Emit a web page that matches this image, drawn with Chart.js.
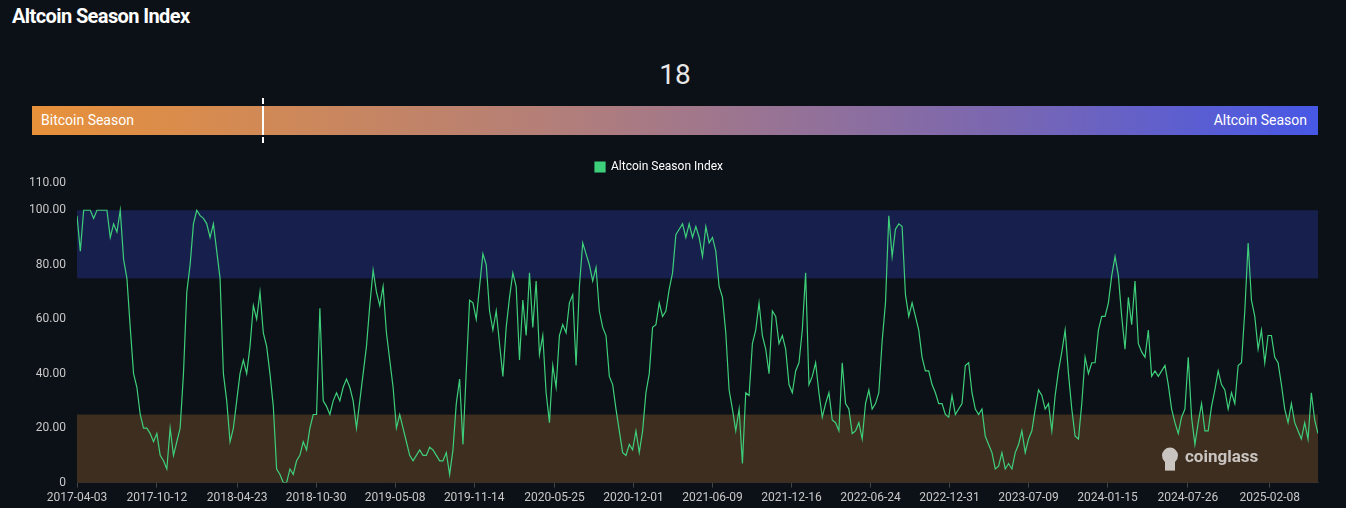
<!DOCTYPE html>
<html><head><meta charset="utf-8">
<script src="https://cdn.jsdelivr.net/npm/chart.js@4"></script>
<style>
html,body{margin:0;padding:0;background:#0c1017;width:1346px;height:508px;overflow:hidden;font-family:Roboto,"Noto Sans",sans-serif;}
#title{position:absolute;left:12px;top:4px;color:#fff;font-weight:bold;font-size:20px;letter-spacing:-0.6px;}
#cur{position:absolute;left:0;width:1350px;top:58px;text-align:center;color:#e8e8e8;font-size:28px;}
#bar{position:absolute;left:32px;top:106px;width:1286px;height:29px;background:linear-gradient(90deg,#e8913a,#b47f78 40%,#7b67b0 75%,#4758e6);}
#bar span{position:absolute;top:6px;color:#fff;font-size:14px;}
#mark{position:absolute;left:262px;top:98px;height:45px;border-left:2px dashed #fff;}
#mark2{position:absolute;left:262px;top:106px;height:29px;border-left:2px solid #fff;}
#wrap{position:absolute;left:0;top:143px;width:1346px;height:365px;}
</style></head><body>
<div id="title">Altcoin Season Index</div>
<div id="cur"></div>
<div id="bar"><span style="left:9px">Bitcoin Season</span><span style="right:11px">Altcoin Season</span></div>
<div id="mark"></div><div id="mark2"></div>
<div id="wrap"><canvas id="c"></canvas></div>
<script>
const startDate = "2017-04-03";
const stepDays = 8;
const currentValue = 18;
const seriesName = "Altcoin Season Index";
const tickDates = ["2017-04-03","2017-10-12","2018-04-23","2018-10-30","2019-05-08","2019-11-14","2020-05-25","2020-12-01","2021-06-09","2021-12-16","2022-06-24","2022-12-31","2023-07-09","2024-01-15","2024-07-26","2025-02-08"];
const values = [
98,85,100,100,100,97,100,100,100,100,90,95,92,100,82,75,57,40,35,25,20,20,18,15,18,10,8,5,20,10,15,20,40,70,80,95,100,98,97,95,90,95,85,75,40,30,15,20,30,40,45,40,50,65,60,70,55,50,40,28,5,3,0,0,5,3,8,10,15,12,20,25,25,64,30,28,25,30,33,30,35,38,35,30,20,30,40,50,65,78,70,65,72,55,45,35,20,25,20,15,10,8,10,12,10,10,13,12,10,8,8,
11,3,12,29,38,14,41,67,66,60,72,84,80,63,56,63,51,39,57,68,77,72,45,67,54,77,57,74,47,54,33,22,43,35,54,58,55,66,69,43,72,88,84,80,74,79,63,57,54,39,36,27,19,11,10,14,12,19,11,19,33,40,57,58,66,61,63,71,77,91,93,95,90,95,90,94,90,83,
94,88,90,85,72,68,55,34,27,19,27,7,33,32,51,56,66,54,49,40,63,61,51,54,49,36,33,41,44,56,77,36,39,44,33,24,29,33,23,22,19,44,29,27,18,19,22,16,29,34,27,29,33,52,66,98,83,93,95,94,69,61,66,61,56,46,41,41,36,33,29,29,25,24,32,25,27,29,43,44,33,27,25,27,17,14,11,5,6,
11,5,7,5,11,14,19,11,16,19,27,34,32,27,29,19,32,41,48,56,40,27,17,16,29,46,40,44,44,56,61,61,66,76,83,76,61,49,68,58,74,51,48,46,56,39,41,39,41,43,36,27,22,18,24,27,46,24,14,22,29,19,19,28,34,41,36,34,27,33,29,43,44,63,88,67,61,49,56,44,54,54,46,44,36,27,22,29,22,19,16,22,16,33,23,18];

const t0 = Date.parse(startDate);
const dayOf = s => Math.round((Date.parse(s)-t0)/86400000);
const tickDays = tickDates.map(dayOf);
const pts = values.map((v,i)=>({x:i*stepDays,y:v}));
document.getElementById('cur').textContent = currentValue;

const bands = {
  id:'bands',
  beforeDatasetsDraw(ch){
    const {ctx,chartArea:a,scales:{y}} = ch;
    ctx.save();
    ctx.fillStyle='#17204c';
    ctx.fillRect(a.left,y.getPixelForValue(100),a.width,y.getPixelForValue(75)-y.getPixelForValue(100));
    ctx.fillStyle='#3e2e20';
    ctx.fillRect(a.left,y.getPixelForValue(25),a.width,y.getPixelForValue(0)-y.getPixelForValue(25));
    ctx.restore();
  },
  afterDatasetsDraw(ch){
    const {ctx,chartArea:a} = ch;
    ctx.save();
    ctx.fillStyle='#c9c4c0';
    ctx.font='bold 17px Roboto, sans-serif';
    ctx.textBaseline='middle';
    ctx.fillText('coinglass',a.right-133,a.bottom-25);
    ctx.beginPath();ctx.arc(a.right-148,a.bottom-27,8,0,Math.PI*2);ctx.fill();
    ctx.fillRect(a.right-153,a.bottom-22,10,10);
    ctx.restore();
  }
};

new Chart(document.getElementById('c'),{
  type:'line',
  data:{datasets:[{label:seriesName,data:pts,borderColor:'#3ecf7a',backgroundColor:'#3ecf7a',borderWidth:1.2,pointRadius:0,tension:0}]},
  options:{
    responsive:true,maintainAspectRatio:false,animation:false,
    layout:{padding:{left:0,right:28,top:0,bottom:0}},
    plugins:{legend:{labels:{color:'#fff',boxWidth:10,boxHeight:10,padding:18,font:{size:12,family:'Roboto'}}},tooltip:{enabled:false}},
    scales:{
      x:{type:'linear',min:0,max:(values.length-1)*stepDays,
        afterBuildTicks:s=>{s.ticks=tickDays.map(v=>({value:v}));},
        ticks:{color:'#c8c8c8',font:{size:12,family:'Roboto'},maxRotation:0,autoSkip:false,callback:(v)=>tickDates[tickDays.indexOf(v)]},
        grid:{display:true,drawOnChartArea:false,color:'#444',tickLength:5},border:{color:'#333'}},
      y:{min:0,max:110,afterFit:s=>{s.width=77;},
        ticks:{stepSize:20,color:'#c8c8c8',font:{size:12,family:'Roboto'},callback:v=>v===0?'0':v.toFixed(2)},
        grid:{display:false},border:{display:false}}
    }
  },
  plugins:[bands]
});
</script></body></html>
